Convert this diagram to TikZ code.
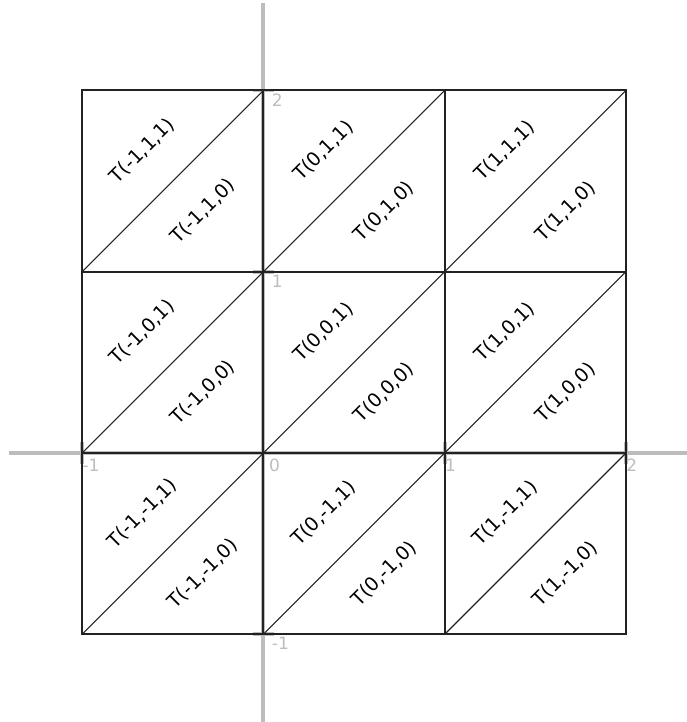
\documentclass[tikz,border=0pt]{standalone}
\usepackage{fontspec}
\setmainfont{DejaVu Sans}
\usetikzlibrary{positioning}
\definecolor{axisgray}{HTML}{BDBDBD}
\definecolor{gridink}{HTML}{222222}
\newcommand{\tricell}[2]{%
  \draw[gridline] (#1,#2) rectangle ++(1,1);
  \draw[diagline] (#1,#2) -- ++(1,1);
  \node[trilabel] (T#1#2up) at (#1+1/3,#2+2/3) {T(#1,#2,1)};
  \node[trilabel] (T#1#2lo) at (#1+2/3,#2+1/3) {T(#1,#2,0)};
}

\begin{document}
\begin{tikzpicture}[x=3cm,y=3cm,
  axisline/.style={axisgray,line width=1.8pt},
  axistick/.style={axisgray,line width=1.8pt},
  gridline/.style={gridink,line width=0.9pt},
  diagline/.style={gridink,line width=0.55pt},
  trilabel/.style={rotate=45,inner sep=0pt,font=\fontsize{9}{10}\selectfont},
  ticklabel/.style={anchor=north west,inner sep=0pt,text=axisgray,font=\fontsize{8}{9}\selectfont}]
  \useasboundingbox (-1.453,-1.484) rectangle (2.336,2.499);
  \draw[axisline] (-1.404,0) -- (2.336,0);
  \draw[axisline] (0,-1.484) -- (0,2.482);
  \foreach \t in {-1,1,2} {
    \draw[axistick] (\t,-0.06) -- (\t,0.06);
    \node[ticklabel] (xl\t) at (\t+0.0,-0.03) {\t};
  }
  \node[ticklabel] (xl0) at (0.03,-0.03) {0};
  \foreach \t in {-1,1,2} {
    \draw[axistick] (-0.06,\t) -- (0.06,\t);
    \node[ticklabel] (yl\t) at (0.045,\t-0.015) {\t};
  }
  \foreach \x in {-1,0,1} {
    \foreach \y in {-1,0,1} {
      \tricell{\x}{\y}
    }
  }
\end{tikzpicture}
\end{document}
